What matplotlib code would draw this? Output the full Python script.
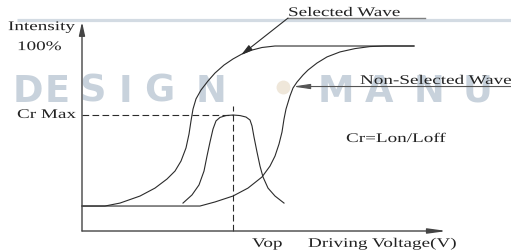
import matplotlib
matplotlib.use('Agg')
from matplotlib import pyplot as plt
from matplotlib import patheffects
from matplotlib.transforms import Affine2D

# curves: driving voltage (arb. units) vs intensity (%)
sel_v = [0, 2.3, 3.8, 5.8, 7.3, 8.5, 9.3, 9.9, 10.4, 10.7, 10.9, 11.1, 11.4, 11.9,
         12.6, 13.3, 14.2, 15.1, 16.0, 17.0, 18.0, 19.3, 33.2]
sel_i = [13.5, 13.5, 15.1, 18.9, 23.2, 28.1, 32.4, 37.8, 44.9, 52.4, 59.5, 65.9, 71.4, 76.2,
         81.1, 85.4, 89.7, 93.0, 95.7, 97.8, 99.2, 100, 100]

nonsel_v = [0, 11.8, 13.3, 15.1, 16.6, 18.0, 18.8, 19.3, 19.7, 20.0, 20.2, 20.4, 20.8, 21.1,
            21.5, 22.1, 22.6, 23.5, 24.5, 25.8, 27.3, 28.8, 30.3, 33.2]
nonsel_i = [13.5, 13.5, 15.7, 18.9, 23.2, 29.2, 35.1, 40.5, 47.0, 53.5, 60.5, 65.9, 73.0, 77.3,
            80.5, 84.3, 87.0, 90.8, 94.1, 96.8, 98.6, 99.7, 100, 100]

cr_v = [10.1, 11.0, 11.7, 12.2, 12.5, 12.8, 13.1, 13.4, 13.8, 14.4, 15.1, 15.8, 16.4, 16.8,
        17.0, 17.2, 17.5, 17.8, 18.1, 18.6, 19.3, 20.2]
cr_i = [15.1, 19.5, 24.9, 32.4, 40.5, 48.1, 55.1, 59.5, 61.4, 62.4, 62.7, 62.4, 61.6, 60.0,
        56.8, 50.8, 42.7, 35.1, 29.2, 23.2, 18.9, 15.1]

vop = 15.1
cr_max = 62.7

wm_left = [('D', -6.9), ('E', -3.7), ('S', -0.3), ('I', 3.7), ('G', 6.2), ('N', 11.4)]
wm_right = [('M', 23.6), ('A', 28.3), ('N', 33.2), ('U', 38.1)]


class Stretch(patheffects.AbstractPathEffect):
    # widen glyphs sideways about the text origin (the source picture is squashed)
    def __init__(self, sx=1.45):
        super().__init__()
        self.sx = sx

    def draw_path(self, renderer, gc, tpath, affine, rgbFace=None):
        x0, y0 = affine.transform((0, 0))
        affine = affine + Affine2D().translate(-x0, 0).scale(self.sx, 1).translate(x0, 0)
        renderer.draw_path(gc, tpath, affine, rgbFace)


fig = plt.figure(figsize=(5.11, 2.51), dpi=100)
ax = fig.add_axes([0, 0, 1, 1])
ax.set_xlim(-8.2, 42.9)
ax.set_ylim(-10.27, 125.41)
ax.axis('off')

# watermark
wm = '#c8d2dc'
ax.plot([-6.5, 42.9], [114.0, 114.0], color='#d3dbe3', lw=2.3, zorder=0, solid_capstyle='butt')
for ch, x in wm_left + wm_right:
    ax.text(x, 70.3, ch, color=wm, fontsize=26.5, family='DejaVu Sans', weight='bold',
            va='baseline', ha='left', zorder=0)
ax.plot(20.1, 77.8, 'o', ms=10, color='#efe7da', mec='none', zorder=0)

ink = '#2b2b2b'
# axes with arrows
ax.annotate('', xy=(0, 113), xytext=(0, 0),
            arrowprops=dict(arrowstyle='-|>,head_length=0.8,head_width=0.18', lw=1.0, color='#444444',
                            shrinkA=0, shrinkB=0, mutation_scale=10))
ax.annotate('', xy=(36.5, 0), xytext=(0, 0),
            arrowprops=dict(arrowstyle='-|>,head_length=1.1,head_width=0.15', lw=1.0, color='#444444',
                            shrinkA=0, shrinkB=0, mutation_scale=10))

ax.plot(sel_v, sel_i, color=ink, lw=0.8)
ax.plot(nonsel_v, nonsel_i, color=ink, lw=0.8)
ax.plot(cr_v, cr_i, color=ink, lw=0.8)

ax.plot([0, vop], [cr_max, cr_max], color=ink, lw=0.8, ls=(0, (6, 3)))
ax.plot([vop, vop], [0, 67.5], color=ink, lw=0.8, ls=(0, (6, 3)))

# leaders
ax.plot([20.6, 34.3], [115.1, 115.1], color='#808080', lw=1.0)
ax.annotate('', xy=(15.9, 95.1), xytext=(20.6, 115.1),
            arrowprops=dict(arrowstyle='-|>,head_length=0.7,head_width=0.18', lw=0.8, color=ink,
                            shrinkA=0, shrinkB=0, mutation_scale=10))
ax.annotate('', xy=(21.1, 78.1), xytext=(42.9, 78.1),
            arrowprops=dict(arrowstyle='-|>,head_length=1.0,head_width=0.15', lw=0.8, color='#555555',
                            shrinkA=0, shrinkB=0, mutation_scale=10))

labels = [('Intensity', -7.4, 108.6), ('100%', -6.5, 97.8), ('Cr Max', -6.5, 61.1),
          ('Selected Wave', 20.6, 116.2), ('Non-Selected Wave', 27.8, 79.5),
          ('Cr=Lon/Loff', 26.4, 48.1), ('Vop', 17.0, -8.6), ('Driving Voltage(V)', 22.6, -8.6)]
for s, x, y in labels:
    t = ax.text(x, y, s, fontsize=9.5, family='Liberation Serif', color='#222222',
                ha='left', va='baseline')
    t.set_path_effects([Stretch(1.45)])

fig.savefig('out.png', dpi=100)
